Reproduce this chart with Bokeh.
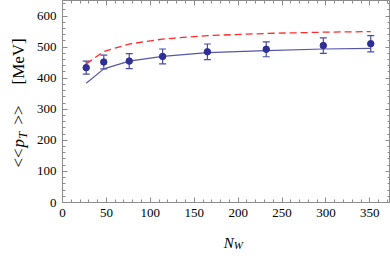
from bokeh.plotting import figure
from bokeh.layouts import row, column
from bokeh.models import (ColumnDataSource, Whisker, TeeHead, LinearAxis,
                          FixedTicker, Range1d)
from bokeh.core.properties import value
from bokeh.embed import file_html
from bokeh.resources import INLINE

# ---- data ----
n_w = [27, 47, 76, 114, 165, 232, 297, 351]
pt_data = [434, 452, 455, 470, 485, 493, 505, 511]
pt_err = [21, 22, 24, 24, 25, 24, 25, 26]
model_solid = [384, 430, 455, 470, 482, 489, 494, 496]
model_dashed = [446, 486, 510, 526, 537, 544, 548, 550]

x_ticks = [0, 50, 100, 150, 200, 250, 300, 350]
y_ticks = [0, 100, 200, 300, 400, 500, 600]

FONT = "Liberation Serif"
FRAME = "#8c8c8c"

LEFT_W = 30
MAIN_W = 360
MAIN_H = 232
BOT_H = 28

p = figure(width=MAIN_W, height=MAIN_H, output_backend="svg", toolbar_location=None,
           x_range=Range1d(0, 373.5), y_range=Range1d(0, 650),
           min_border_left=32, min_border_right=0, min_border_top=0,
           min_border_bottom=30)
p.grid.visible = False
p.outline_line_color = FRAME
p.outline_line_width = 1
p.background_fill_color = "white"
p.border_fill_color = "white"

def style_axis(ax, ticks, step, show_labels):
    ax.ticker = FixedTicker(ticks=ticks, minor_ticks=list(range(0, 700, step)))
    ax.axis_line_color = None
    ax.major_tick_line_color = FRAME
    ax.minor_tick_line_color = FRAME
    ax.major_tick_in = 5
    ax.major_tick_out = 0
    ax.minor_tick_in = 3
    ax.minor_tick_out = 0
    if show_labels:
        ax.major_label_text_font = FONT
        ax.major_label_text_font_size = "13px"
        ax.major_label_text_color = "black"
        ax.major_label_standoff = 6
    else:
        ax.major_label_text_font_size = "0px"
        ax.major_label_standoff = 0
        ax.major_label_text_color = None

style_axis(p.xaxis[0], x_ticks, 10, True)
style_axis(p.yaxis[0], y_ticks, 20, True)
top = LinearAxis()
style_axis(top, x_ticks, 10, False)
right = LinearAxis()
style_axis(right, y_ticks, 20, False)
p.add_layout(top, "above")
p.add_layout(right, "right")

src = ColumnDataSource(dict(
    x=n_w, y=pt_data,
    lo=[v - e for v, e in zip(pt_data, pt_err)],
    hi=[v + e for v, e in zip(pt_data, pt_err)],
    solid=model_solid, dashed=model_dashed))

p.line("x", "dashed", source=src, line_color="#ff2a2a", line_width=1.3, line_dash="7 4")
p.line("x", "solid", source=src, line_color="#5555aa", line_width=1.2)
eb_col = "#4b4ba8"
p.add_layout(Whisker(source=src, base="x", lower="lo", upper="hi", line_color=eb_col,
                     line_width=1.2,
                     upper_head=TeeHead(size=7, line_color=eb_col, line_width=1.2),
                     lower_head=TeeHead(size=7, line_color=eb_col, line_width=1.2)))
p.scatter("x", "y", source=src, size=6.5, fill_color="#2f2f96", line_color="#2f2f96")


def text_panel(w, h):
    f = figure(width=w, height=h, output_backend="svg", toolbar_location=None,
               x_range=Range1d(0, w), y_range=Range1d(0, h),
               x_axis_location=None, y_axis_location=None,
               min_border=0, outline_line_color=None)
    f.grid.visible = False
    f.border_fill_color = "white"
    f.background_fill_color = "white"
    return f

# ---- y axis title: <<p_T>> [MeV], rotated to read upward ----
ylab = text_panel(LEFT_W, MAIN_H + BOT_H)
H = MAIN_H + BOT_H
rot = 1.5707963
common = dict(angle=rot, text_font=value(FONT), text_color="black",
              text_baseline="alphabetic", text_align="left")
ylab.text(x=[18], y=[H - 167], text=["<<"], text_font_size="17px", **common)
ylab.text(x=[18], y=[H - 147], text=["p"], text_font_size="17px",
          text_font_style="italic", **common)
ylab.text(x=[22], y=[H - 138], text=["T"], text_font_size="12px",
          text_font_style="italic", **common)
ylab.text(x=[18], y=[H - 124], text=[">>"], text_font_size="17px", **common)
ylab.text(x=[18], y=[H - 84], text=["[MeV]"], text_font_size="17px", **common)

# ---- x axis title: N_W ----
xlab = text_panel(MAIN_W, BOT_H)
xcommon = dict(text_font=value(FONT), text_color="black", text_font_style="italic",
               text_baseline="alphabetic", text_align="left")
xlab.text(x=[177], y=[BOT_H - 10], text=["N"], text_font_size="15px", **xcommon)
xlab.text(x=[188], y=[BOT_H - 12], text=["W"], text_font_size="11px", **xcommon)

layout = row(ylab, column(p, xlab, spacing=0), spacing=0)
open("out.html", "w").write(file_html(layout, INLINE))
